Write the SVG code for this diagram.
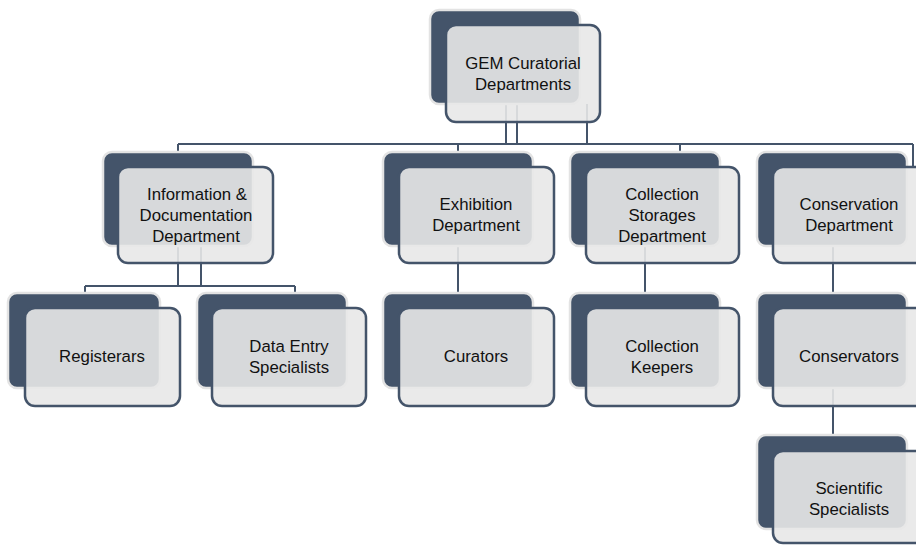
<svg xmlns="http://www.w3.org/2000/svg" width="916" height="545" viewBox="0 0 916 545">
<style>
.bk{fill:#44546a;stroke:#e3e3e3;stroke-width:2.5}
.fr{fill:#e8e8e8;fill-opacity:0.9;stroke:#44546a;stroke-width:2.5}
.cn{fill:none;stroke:#44546a;stroke-width:2}
text{font-family:"Liberation Sans",Arial,sans-serif;font-size:16.8px;fill:#111;text-anchor:middle}
</style>
<rect width="916" height="545" fill="#fff"/>
<g id="connectors">
<path class="cn" d="M178 144H913M506 104V144M517 104V144M587 104V144M178 144V152M458 144V152M680 144V152M913 144V167"/>
<path class="cn" d="M178 247V286M201 247V286M85 286H295M85 286V293M295 286V293"/>
<path class="cn" d="M458 247V293M645 247V293M833 247V293M833 388V435"/>
</g>
<g id="root"><rect class="bk" x="430" y="10" width="150" height="94" rx="9"/><rect class="fr" x="446" y="25" width="154" height="97" rx="10"/><text x="523" y="69">GEM Curatorial</text><text x="523" y="90">Departments</text></g>
<g id="info"><rect class="bk" x="103" y="152" width="150" height="94" rx="9"/><rect class="fr" x="118" y="167" width="155" height="96" rx="10"/><text x="197" y="200">Information &amp;</text><text x="196" y="221">Documentation</text><text x="196" y="242">Department</text></g>
<g id="exhibition"><rect class="bk" x="383" y="152" width="150" height="94" rx="9"/><rect class="fr" x="399" y="167" width="155" height="96" rx="10"/><text x="476" y="210">Exhibition</text><text x="476" y="231">Department</text></g>
<g id="collection"><rect class="bk" x="570" y="152" width="150" height="94" rx="9"/><rect class="fr" x="586" y="167" width="153" height="96" rx="10"/><text x="662" y="200">Collection</text><text x="662" y="221">Storages</text><text x="662" y="242">Department</text></g>
<g id="conservation"><rect class="bk" x="757" y="152" width="150" height="94" rx="9"/><rect class="fr" x="773" y="167" width="155" height="96" rx="10"/><text x="849" y="210">Conservation</text><text x="849" y="231">Department</text></g>
<g id="registerars"><rect class="bk" x="8" y="293" width="152" height="95" rx="9"/><rect class="fr" x="25" y="308" width="155" height="98" rx="10"/><text x="102" y="362">Registerars</text></g>
<g id="dataentry"><rect class="bk" x="197" y="293" width="150" height="95" rx="9"/><rect class="fr" x="212" y="308" width="154" height="98" rx="10"/><text x="289" y="352">Data Entry</text><text x="289" y="373">Specialists</text></g>
<g id="curators"><rect class="bk" x="383" y="293" width="150" height="95" rx="9"/><rect class="fr" x="399" y="308" width="155" height="98" rx="10"/><text x="476" y="362">Curators</text></g>
<g id="keepers"><rect class="bk" x="570" y="293" width="150" height="95" rx="9"/><rect class="fr" x="586" y="308" width="153" height="98" rx="10"/><text x="662" y="352">Collection</text><text x="662" y="373">Keepers</text></g>
<g id="conservators"><rect class="bk" x="757" y="293" width="150" height="95" rx="9"/><rect class="fr" x="773" y="308" width="155" height="98" rx="10"/><text x="849" y="362">Conservators</text></g>
<g id="scientific"><rect class="bk" x="757" y="435" width="150" height="94" rx="9"/><rect class="fr" x="773" y="451" width="155" height="92" rx="10"/><text x="849" y="494">Scientific</text><text x="849" y="515">Specialists</text></g>
</svg>
